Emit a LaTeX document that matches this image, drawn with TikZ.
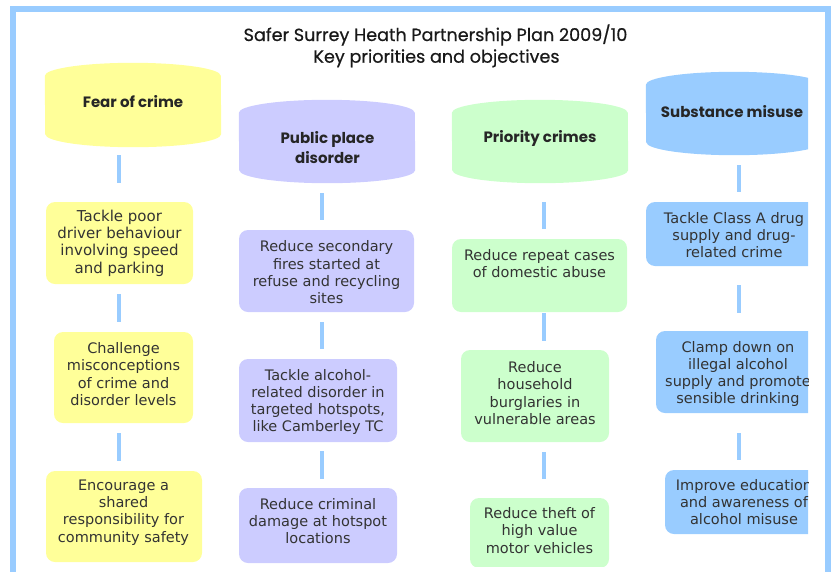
\documentclass[tikz,border=0pt]{standalone}
\usepackage{fontspec}
\setmainfont{DejaVu Sans}
\newfontfamily\ttlfont{Poppins}
\newfontfamily\ttlfontb[FakeBold=0.6]{Poppins}
\usetikzlibrary{calc}
\definecolor{ycol}{HTML}{FFFF99}
\definecolor{pcol}{HTML}{CCCCFF}
\definecolor{gcol}{HTML}{CCFFCC}
\definecolor{bcol}{HTML}{99CCFF}
\definecolor{lcol}{HTML}{99CCFF}
\definecolor{txt}{HTML}{333333}
\newcommand\mycapsule[2]{\fill[#2] ([yshift=-13pt]#1.north west) arc[start angle=180,end angle=0,x radius=88pt,y radius=13pt] -- ([yshift=13pt]#1.south east) arc[start angle=0,end angle=-180,x radius=88pt,y radius=13pt] -- cycle;}
\tikzset{
  objbox/.style={rounded corners=9pt, inner sep=0pt},
  objtext/.style={inner sep=0pt, align=center, text=txt, font=\fontsize{14.5}{17.3}\selectfont},
  capnode/.style={inner sep=0pt, minimum width=176pt},
  hdr/.style={inner sep=0pt, align=center, text=black!85, font=\ttlfont\bfseries\fontsize{15}{20}\selectfont},
  ttl/.style={inner sep=0pt, anchor=base, text=black!90, font=\ttlfontb\fontsize{17.6}{22}\selectfont},
  conn/.style={draw=lcol, line width=3.5pt},
}
\begin{document}
\begin{tikzpicture}[x=1pt,y=-1pt]
\useasboundingbox (0,0) rectangle (831,571);
\begin{scope}
\clip (0,0) rectangle (808,566);
% column anchors
\coordinate (c1) at (119,0);
\coordinate (c2) at (322,0);
\coordinate (c3) at (544,0);
\coordinate (c4) at (739,0);
% capsules
\node[capnode, minimum height=84pt] (cap1) at (133,105) {};
\node[capnode, minimum height=83pt] (cap2) at (327,141.5) {};
\node[capnode, minimum height=83pt] (cap3) at (540,141.5) {};
\node[capnode, minimum height=83pt] (cap4) at (734,113.5) {};
\mycapsule{cap1}{ycol}
\mycapsule{cap2}{pcol}
\mycapsule{cap3}{gcol}
\mycapsule{cap4}{bcol}
\node[hdr] (h1) at (133,102) {Fear of crime};
\node[hdr] (h2) at (327.5,148) {Public place\\disorder};
\node[hdr] (h3) at (540,138) {Priority crimes};
\node[hdr] (h4) at (732,112) {Substance misuse};
% column 1
\node[objbox, fill=ycol, minimum width=147pt, minimum height=82pt] (y1) at (119.5,243) {};
\node[objbox, fill=ycol, minimum width=139pt, minimum height=91pt] (y2) at (123.5,377.5) {};
\node[objbox, fill=ycol, minimum width=156pt, minimum height=91pt] (y3) at (124,516.5) {};
\node[objtext, font=\fontsize{15}{17.3}\selectfont] (y1t) at (119.5,243) {Tackle poor\\driver behaviour\\involving speed\\and parking};
\node[objtext] (y2t) at (123.5,374) {Challenge\\misconceptions\\of crime and\\disorder levels};
\node[objtext] (y3t) at (123.5,512.5) {Encourage a\\shared\\responsibility for\\community safety};
% column 2
\node[objbox, fill=pcol, minimum width=175pt, minimum height=82pt] (p1) at (326.5,271) {};
\node[objbox, fill=pcol, minimum width=158pt, minimum height=83pt] (p2) at (318,400.5) {};
\node[objbox, fill=pcol, minimum width=158pt, minimum height=75pt] (p3) at (318,525.5) {};
\node[objtext] (p1t) at (326.5,272.5) {Reduce secondary\\fires started at\\refuse and recycling\\sites};
\node[objtext] (p2t) at (318,402) {Tackle alcohol-\\related disorder in\\targeted hotspots,\\like Camberley TC};
\node[objtext] (p3t) at (318,521) {Reduce criminal\\damage at hotspot\\locations};
% column 3
\node[objbox, fill=gcol, minimum width=175pt, minimum height=73pt] (g1) at (539.5,275.5) {};
\node[objbox, fill=gcol, minimum width=148pt, minimum height=92pt] (g2) at (535,396) {};
\node[objbox, fill=gcol, minimum width=139pt, minimum height=70pt] (g3) at (539.5,533) {};
\node[objtext] (g1t) at (539.5,263.5) {Reduce repeat cases\\of domestic abuse};
\node[objtext] (g2t) at (535,393) {Reduce\\household\\burglaries in\\vulnerable areas};
\node[objtext] (g3t) at (539.5,530.5) {Reduce theft of\\high value\\motor vehicles};
% column 4
\node[objbox, fill=bcol, minimum width=174pt, minimum height=64pt] (b1) at (733,234) {};
\node[objbox, fill=bcol, minimum width=164pt, minimum height=82pt] (b2) at (738,372) {};
\node[objbox, fill=bcol, minimum width=156pt, minimum height=64pt] (b3) at (743,502) {};
\node[objtext] (b1t) at (734,235) {Tackle Class A drug\\supply and drug-\\related crime};
\node[objtext] (b2t) at (738,374) {Clamp down on\\illegal alcohol\\supply and promote\\sensible drinking};
\node[objtext] (b3t) at (744,502) {Improve education\\and awareness of\\alcohol misuse};
% connectors
\draw[conn, shorten <=8pt, shorten >=19pt] (cap1.south -| c1) -- (y1.north -| c1);
\draw[conn, shorten <=10pt, shorten >=10pt] (y1.south -| c1) -- (y2.north -| c1);
\draw[conn, shorten <=10pt, shorten >=10pt] (y2.south -| c1) -- (y3.north -| c1);
\draw[conn, shorten <=10pt, shorten >=10pt] (cap2.south -| c2) -- (p1.north -| c2);
\draw[conn, shorten <=10pt, shorten >=10pt] (p1.south -| c2) -- (p2.north -| c2);
\draw[conn, shorten <=9pt, shorten >=9pt] (p2.south -| c2) -- (p3.north -| c2);
\draw[conn, shorten <=19pt, shorten >=10pt] (cap3.south -| c3) -- (g1.north -| c3);
\draw[conn, shorten <=1pt, shorten >=9pt] (g1.south -| c3) -- (g2.north -| c3);
\draw[conn, shorten <=10pt, shorten >=19pt] (g2.south -| c3) -- (g3.north -| c3);
\draw[conn, shorten <=10pt, shorten >=10pt] (cap4.south -| c4) -- (b1.north -| c4);
\draw[conn, shorten <=19pt, shorten >=18pt] (b1.south -| c4) -- (b2.north -| c4);
\draw[conn, shorten <=20pt, shorten >=10pt] (b2.south -| c4) -- (b3.north -| c4);
\end{scope}
% title
\node[ttl] (t1) at (435.5,41) {Safer Surrey Heath Partnership Plan 2009/10};
\node[ttl] (t2) at (436.5,62.7) {Key priorities and objectives};
% frame
\begin{scope}
\clip (0,0) rectangle (831,571);
\coordinate (fbl) at (13,600);
\coordinate (ftl) at (13,8.5);
\coordinate (ftr) at (827.5,8.5);
\coordinate (fbr) at (827.5,600);
\draw[draw=lcol, line width=6pt] (fbl) -- (ftl) -- (ftr) -- (fbr);
\end{scope}
\end{tikzpicture}
\end{document}
